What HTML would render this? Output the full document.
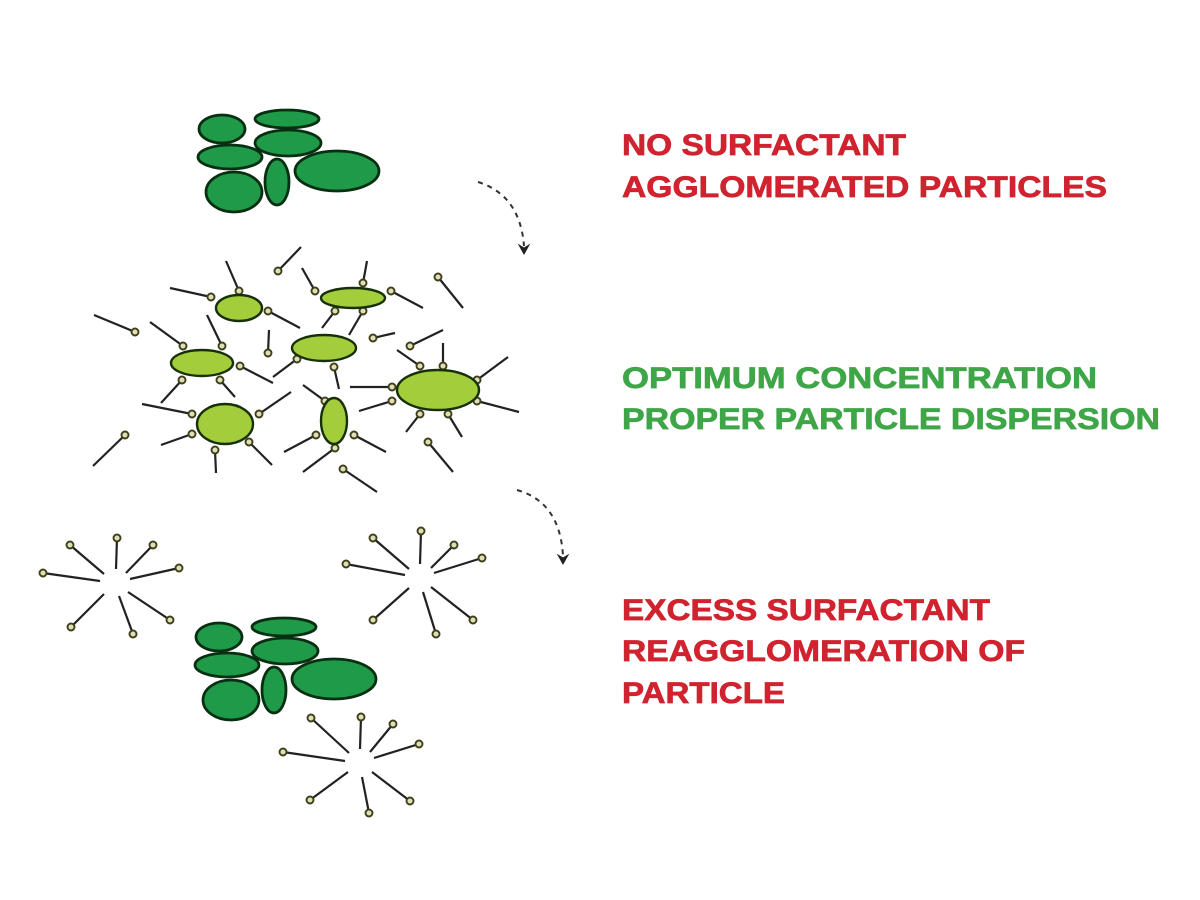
<!DOCTYPE html>
<html><head><meta charset="utf-8"><style>
html,body{margin:0;padding:0;background:#fff;}
svg{display:block;}
.t{font-family:"Liberation Sans",Arial,sans-serif;font-weight:bold;font-size:30px;stroke-width:0.7;}
.r{fill:#d0232f;stroke:#d0232f;} .g{fill:#3fa648;stroke:#3fa648;}
.lt ellipse{fill:#a3cd3b;stroke:#17300a;stroke-width:2.4;}
.s line{stroke:#222;stroke-width:2.2;}
.s circle{fill:#e0e0b8;stroke:#3f3f1a;stroke-width:1.9;}
</style></head><body>
<svg width="1200" height="900" viewBox="0 0 1200 900" xmlns="http://www.w3.org/2000/svg">
<defs>
<g id="clump" fill="#1f9a48" stroke="#082f12" stroke-width="2.8">
<ellipse cx="222" cy="129" rx="23" ry="14"/>
<ellipse cx="287" cy="119" rx="32" ry="9"/>
<ellipse cx="230" cy="157" rx="32" ry="12"/>
<ellipse cx="288" cy="143" rx="33" ry="13"/>
<ellipse cx="234" cy="192" rx="28" ry="20"/>
<ellipse cx="277" cy="182" rx="12" ry="23"/>
<ellipse cx="337" cy="171" rx="42" ry="20"/>
</g>
</defs>
<use href="#clump"/>
<use href="#clump" transform="translate(-3,508)"/>

<g class="s">
<line x1="239" y1="291" x2="226" y2="261"/><circle cx="239" cy="291" r="3.5"/>
<line x1="211" y1="297" x2="170" y2="288"/><circle cx="211" cy="297" r="3.5"/>
<line x1="268" y1="311" x2="300" y2="328"/><circle cx="268" cy="311" r="3.5"/>
<line x1="278" y1="271" x2="301" y2="247"/><circle cx="278" cy="271" r="3.5"/>
<line x1="315" y1="291" x2="302" y2="268"/><circle cx="315" cy="291" r="3.5"/>
<line x1="363" y1="283" x2="367" y2="261"/><circle cx="363" cy="283" r="3.5"/>
<line x1="391" y1="291" x2="423" y2="308"/><circle cx="391" cy="291" r="3.5"/>
<line x1="335" y1="311" x2="322" y2="328"/><circle cx="335" cy="311" r="3.5"/>
<line x1="363" y1="311" x2="349" y2="335"/><circle cx="363" cy="311" r="3.5"/>
<line x1="438" y1="277" x2="463" y2="308"/><circle cx="438" cy="277" r="3.5"/>
<line x1="135" y1="332" x2="94" y2="315"/><circle cx="135" cy="332" r="3.5"/>
<line x1="183" y1="346" x2="150" y2="322"/><circle cx="183" cy="346" r="3.5"/>
<line x1="222" y1="346" x2="207" y2="315"/><circle cx="222" cy="346" r="3.5"/>
<line x1="240" y1="366" x2="273" y2="383"/><circle cx="240" cy="366" r="3.5"/>
<line x1="182" y1="380" x2="161" y2="403"/><circle cx="182" cy="380" r="3.5"/>
<line x1="220" y1="380" x2="235" y2="397"/><circle cx="220" cy="380" r="3.5"/>
<line x1="268" y1="353" x2="269" y2="330"/><circle cx="268" cy="353" r="3.5"/>
<line x1="373" y1="338" x2="395" y2="333"/><circle cx="373" cy="338" r="3.5"/>
<line x1="297" y1="359" x2="273" y2="377"/><circle cx="297" cy="359" r="3.5"/>
<line x1="334" y1="367" x2="339" y2="389"/><circle cx="334" cy="367" r="3.5"/>
<line x1="410" y1="346" x2="443" y2="330"/><circle cx="410" cy="346" r="3.5"/>
<line x1="420" y1="366" x2="397" y2="350"/><circle cx="420" cy="366" r="3.5"/>
<line x1="443" y1="366" x2="443" y2="343"/><circle cx="443" cy="366" r="3.5"/>
<line x1="477" y1="380" x2="508" y2="357"/><circle cx="477" cy="380" r="3.5"/>
<line x1="392" y1="387" x2="350" y2="387"/><circle cx="392" cy="387" r="3.5"/>
<line x1="392" y1="401" x2="359" y2="411"/><circle cx="392" cy="401" r="3.5"/>
<line x1="477" y1="401" x2="519" y2="412"/><circle cx="477" cy="401" r="3.5"/>
<line x1="420" y1="414" x2="406" y2="432"/><circle cx="420" cy="414" r="3.5"/>
<line x1="448" y1="414" x2="462" y2="437"/><circle cx="448" cy="414" r="3.5"/>
<line x1="192" y1="414" x2="142" y2="404"/><circle cx="192" cy="414" r="3.5"/>
<line x1="259" y1="414" x2="291" y2="392"/><circle cx="259" cy="414" r="3.5"/>
<line x1="192" y1="434" x2="161" y2="445"/><circle cx="192" cy="434" r="3.5"/>
<line x1="249" y1="442" x2="272" y2="465"/><circle cx="249" cy="442" r="3.5"/>
<line x1="215" y1="450" x2="216" y2="473"/><circle cx="215" cy="450" r="3.5"/>
<line x1="125" y1="435" x2="93" y2="466"/><circle cx="125" cy="435" r="3.5"/>
<line x1="325" y1="401" x2="303" y2="385"/><circle cx="325" cy="401" r="3.5"/>
<line x1="316" y1="435" x2="284" y2="452"/><circle cx="316" cy="435" r="3.5"/>
<line x1="354" y1="435" x2="386" y2="452"/><circle cx="354" cy="435" r="3.5"/>
<line x1="335" y1="448" x2="303" y2="472"/><circle cx="335" cy="448" r="3.5"/>
<line x1="343" y1="469" x2="377" y2="492"/><circle cx="343" cy="469" r="3.5"/>
<line x1="428" y1="442" x2="453" y2="472"/><circle cx="428" cy="442" r="3.5"/>
</g>
<g class="lt">
<ellipse cx="239" cy="308" rx="23" ry="13"/>
<ellipse cx="353" cy="298" rx="32" ry="10"/>
<ellipse cx="202" cy="363" rx="31" ry="13"/>
<ellipse cx="324" cy="348" rx="32" ry="13"/>
<ellipse cx="438" cy="390" rx="41" ry="20"/>
<ellipse cx="225" cy="424" rx="28" ry="20"/>
<ellipse cx="334" cy="421" rx="13" ry="23"/>
</g>

<g class="s">
<line x1="117" y1="538" x2="116" y2="569"/><circle cx="117" cy="538" r="3.5"/>
<line x1="70" y1="545" x2="104" y2="574"/><circle cx="70" cy="545" r="3.5"/>
<line x1="153" y1="545" x2="126" y2="573"/><circle cx="153" cy="545" r="3.5"/>
<line x1="43" y1="573" x2="100" y2="581"/><circle cx="43" cy="573" r="3.5"/>
<line x1="179" y1="568" x2="130" y2="579"/><circle cx="179" cy="568" r="3.5"/>
<line x1="71" y1="627" x2="104" y2="594"/><circle cx="71" cy="627" r="3.5"/>
<line x1="133" y1="634" x2="119" y2="596"/><circle cx="133" cy="634" r="3.5"/>
<line x1="170" y1="620" x2="128" y2="592"/><circle cx="170" cy="620" r="3.5"/>

<line x1="421" y1="531" x2="420" y2="564"/><circle cx="421" cy="531" r="3.5"/>
<line x1="373" y1="538" x2="409" y2="569"/><circle cx="373" cy="538" r="3.5"/>
<line x1="454" y1="545" x2="431" y2="568"/><circle cx="454" cy="545" r="3.5"/>
<line x1="346" y1="564" x2="405" y2="575"/><circle cx="346" cy="564" r="3.5"/>
<line x1="482" y1="558" x2="434" y2="573"/><circle cx="482" cy="558" r="3.5"/>
<line x1="373" y1="620" x2="409" y2="588"/><circle cx="373" cy="620" r="3.5"/>
<line x1="436" y1="634" x2="423" y2="592"/><circle cx="436" cy="634" r="3.5"/>
<line x1="473" y1="620" x2="431" y2="587"/><circle cx="473" cy="620" r="3.5"/>

<line x1="311" y1="718" x2="349" y2="753"/><circle cx="311" cy="718" r="3.5"/>
<line x1="361" y1="717" x2="360" y2="749"/><circle cx="361" cy="717" r="3.5"/>
<line x1="393" y1="724" x2="370" y2="752"/><circle cx="393" cy="724" r="3.5"/>
<line x1="283" y1="752" x2="345" y2="761"/><circle cx="283" cy="752" r="3.5"/>
<line x1="419" y1="744" x2="374" y2="758"/><circle cx="419" cy="744" r="3.5"/>
<line x1="310" y1="800" x2="348" y2="772"/><circle cx="310" cy="800" r="3.5"/>
<line x1="369" y1="813" x2="362" y2="777"/><circle cx="369" cy="813" r="3.5"/>
<line x1="410" y1="801" x2="372" y2="772"/><circle cx="410" cy="801" r="3.5"/>
</g>

<g fill="none" stroke="#333" stroke-width="2" stroke-dasharray="5,5">
<path d="M478,182 Q520,195 524,246"/>
<path d="M517,490 Q560,502 563,556"/>
</g>
<g fill="#222" stroke="#222" stroke-width="1">
<path d="M519,245 L524,254 L529,245 L524,248 Z"/>
<path d="M558,555 L563,564 L568,555 L563,558 Z"/>
</g>

<text class="t r" x="622" y="155" textLength="284" lengthAdjust="spacingAndGlyphs">NO SURFACTANT</text>
<text class="t r" x="622" y="197" textLength="485" lengthAdjust="spacingAndGlyphs">AGGLOMERATED PARTICLES</text>
<text class="t g" x="622" y="388" textLength="475" lengthAdjust="spacingAndGlyphs">OPTIMUM CONCENTRATION</text>
<text class="t g" x="622" y="429" textLength="538" lengthAdjust="spacingAndGlyphs">PROPER PARTICLE DISPERSION</text>
<text class="t r" x="622" y="620" textLength="368" lengthAdjust="spacingAndGlyphs">EXCESS SURFACTANT</text>
<text class="t r" x="622" y="661" textLength="403" lengthAdjust="spacingAndGlyphs">REAGGLOMERATION OF</text>
<text class="t r" x="622" y="703" textLength="163" lengthAdjust="spacingAndGlyphs">PARTICLE</text>
</svg>
</body></html>
